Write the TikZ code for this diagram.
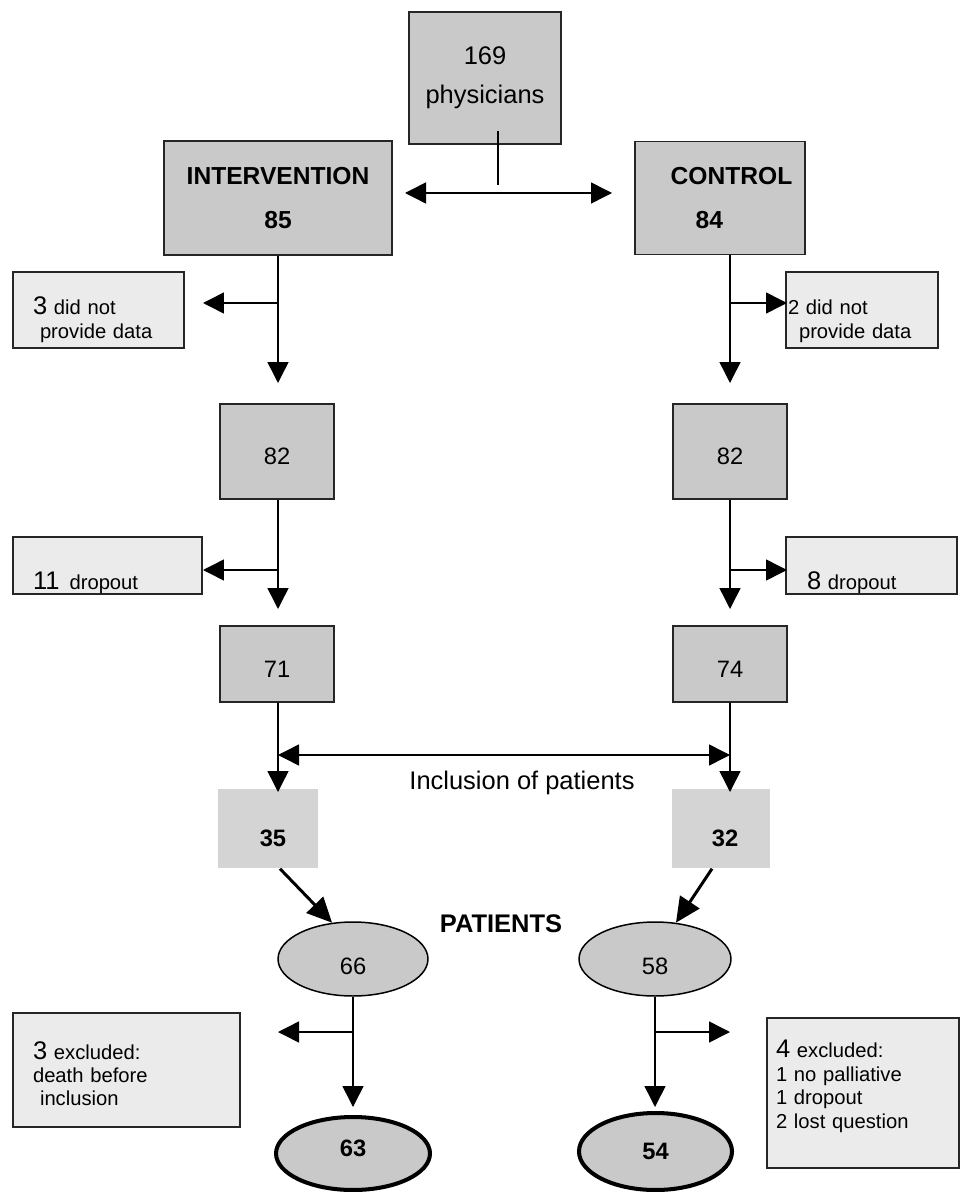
\documentclass[tikz,border=0pt]{standalone}
\usepackage{fontspec}
\setmainfont{Liberation Sans}
\usepackage{tikz}
\usetikzlibrary{arrows.meta,shapes.geometric}
\tikzset{>={Triangle[length=0.42cm,width=0.42cm]}}
\definecolor{boxgray}{gray}{0.79}
\definecolor{notegray}{gray}{0.92}
\definecolor{incgray}{gray}{0.83}
\newcommand\numfont{\fontsize{13.5}{16}\selectfont}
\newcommand\headfont{\fontsize{14}{16.5}\selectfont}
\newcommand\bigfont{\fontsize{14.5}{17.4}\selectfont}
\newcommand\notefont{\fontsize{11.5}{13.3}\selectfont}
\newcommand\upstrut[1]{\rule{0pt}{#1}}
\newcommand\downstrut[1]{\rule[-#1]{0pt}{#1}}

\begin{document}
\begin{tikzpicture}[x=0.02cm,y=-0.02cm,line width=0.85pt]
      \tikzstyle{darkbox}=[draw=black!85,fill=boxgray,inner sep=0pt,font=\numfont];
      \tikzstyle{notebox}=[draw=black!85,fill=notegray,inner ysep=0pt,align=left,font=\notefont];
      \tikzstyle{incbox}=[fill=incgray,inner sep=0pt,font=\numfont\bfseries];
      \tikzstyle{oval}=[ellipse,draw=black,fill=boxgray,inner sep=0pt,font=\numfont];
      \tikzstyle{thickarrow}=[line width=1.7pt,-{Triangle[length=0.5cm,width=0.46cm]}];
      \useasboundingbox (0,0) rectangle (964,1192);

      \node[darkbox,minimum width=3.04cm,minimum height=2.64cm,align=center,font=\bigfont] (phys) at (485,78) {169\\[4.6pt]physicians};
      \node[darkbox,minimum width=4.56cm,minimum height=2.28cm,align=center,font=\headfont\bfseries] (int) at (278,198) {INTERVENTION\\[8.1pt]85};
      \node[darkbox,minimum width=3.4cm,minimum height=2.26cm,align=left,font=\headfont\bfseries] (ctl) at (720,198) {\hspace*{0.46cm}CONTROL\\[8.5pt]\hspace*{0.96cm}84};

      \coordinate (stemtop) at (498,131);
      \coordinate (stembot) at (498,185);
      \coordinate (splitL) at (405,193);
      \coordinate (splitR) at (612,193);
      \draw (stemtop) -- (stembot);
      \draw[<->] (splitL) -- (splitR);

      \node[notebox,minimum width=3.42cm,minimum height=1.52cm,text width=2.62cm,inner xsep=0.4cm] (did3) at (98.5,310) {\upstrut{21pt}{\bigfont 3} did not\\\hspace*{0.14cm}provide data};
      \node[notebox,minimum width=3.04cm,minimum height=1.52cm,text width=2.96cm,inner xsep=0.04cm] (did2) at (862,310) {\upstrut{21pt}2 did not\\\hspace*{0.22cm}provide data};
      \node[darkbox,minimum width=2.28cm,minimum height=1.9cm] (n82a) at (277,451.5) {\upstrut{15pt}82};
      \node[darkbox,minimum width=2.28cm,minimum height=1.9cm] (n82b) at (730,451.5) {\upstrut{15pt}82};

      \coordinate (iA) at (278,303);
      \coordinate (iAdown) at (278,383);
      \coordinate (iAleft) at (203,303);
      \coordinate (cA) at (730,303);
      \coordinate (cAdown) at (730,383);
      \coordinate (cAright) at (787,303);
      \draw[->] (int) -- (iAdown);
      \draw[->] (iA) -- (iAleft);
      \draw[->] (ctl.south -| cA) -- (cAdown);
      \draw[->] (cA) -- (cAright);

      \node[notebox,minimum width=3.78cm,minimum height=1.14cm,text width=2.98cm,inner xsep=0.4cm] (drop11) at (107.5,565.5) {\upstrut{29.5pt}{\bigfont 11}\enspace dropout};
      \node[notebox,minimum width=3.42cm,minimum height=1.14cm,text width=2.58cm,inner xsep=0.42cm] (drop8) at (871.5,565.5) {\upstrut{29.5pt}{\bigfont 8} dropout};
      \node[darkbox,minimum width=2.28cm,minimum height=1.52cm] (n71) at (277,664) {\upstrut{15pt}71};
      \node[darkbox,minimum width=2.28cm,minimum height=1.52cm] (n74) at (730,664) {\upstrut{15pt}74};

      \coordinate (iB) at (278,570);
      \coordinate (iBdown) at (278,609);
      \coordinate (iBleft) at (203,570);
      \coordinate (cB) at (730,570);
      \coordinate (cBdown) at (730,609);
      \coordinate (cBright) at (787,570);
      \draw[->] (n82a.south -| iB) -- (iBdown);
      \draw[->] (iB) -- (iBleft);
      \draw[->] (n82b.south -| cB) -- (cBdown);
      \draw[->] (cB) -- (cBright);

      \node[incbox,minimum width=2cm,minimum height=1.58cm] (n35) at (268,828.5) {\hspace*{0.2cm}\upstrut{21pt}35};
      \node[incbox,minimum width=1.96cm,minimum height=1.58cm] (n32) at (721,828.5) {\hspace*{0.16cm}\upstrut{21pt}32};
      \node[font=\bigfont] (incl) at (522,783) {Inclusion of patients};
      \node[font=\bigfont\bfseries] (pat) at (501,924) {PATIENTS};

      \coordinate (inclL) at (278,755);
      \coordinate (inclR) at (730,755);
      \coordinate (iCdown) at (278,792);
      \coordinate (cCdown) at (730,792);
      \draw[->] (n71.south -| inclL) -- (iCdown);
      \draw[->] (n74.south -| inclR) -- (cCdown);
      \draw[<->] (inclL) -- (inclR);

      \node[oval,minimum width=3cm,minimum height=1.48cm] (e66) at (353,959) {\upstrut{18pt}66};
      \node[oval,minimum width=3.04cm,minimum height=1.48cm] (e58) at (655,959) {\upstrut{18pt}58};
      \draw[thickarrow] ([xshift=0.24cm]n35.south) -- (e66.120);
      \draw[thickarrow] ([xshift=-0.18cm]n32.south) -- (e58.60);

      \node[notebox,minimum width=4.54cm,minimum height=2.28cm,text width=3.74cm,inner xsep=0.4cm] (exc3) at (126.5,1070) {\upstrut{14.2pt}{\bigfont 3} excluded:\\death before\\\hspace*{0.14cm}inclusion};
      \node[notebox,minimum width=3.84cm,minimum height=3cm,text width=3.48cm,inner xsep=0.18cm] (exc4) at (863,1093) {{\bigfont 4} excluded:\\1 no palliative\\1 dropout\\2 lost question\downstrut{10pt}};
      \node[oval,line width=2.3pt,minimum width=3.08cm,minimum height=1.46cm,font=\numfont\bfseries] (e63) at (353,1153.5) {63\downstrut{6.3pt}};
      \node[oval,line width=2.3pt,minimum width=3.06cm,minimum height=1.54cm,font=\numfont\bfseries] (e54) at (655.5,1151.5) {54};

      \coordinate (iD) at (353,1032);
      \coordinate (iDdown) at (353,1107);
      \coordinate (iDleft) at (278,1032);
      \coordinate (cD) at (655,1032);
      \coordinate (cDdown) at (655,1107);
      \coordinate (cDright) at (730,1032);
      \draw[->] (e66) -- (iDdown);
      \draw[->] (iD) -- (iDleft);
      \draw[->] (e58.south -| cD) -- (cDdown);
      \draw[->] (cD) -- (cDright);
    \end{tikzpicture}
\end{document}
